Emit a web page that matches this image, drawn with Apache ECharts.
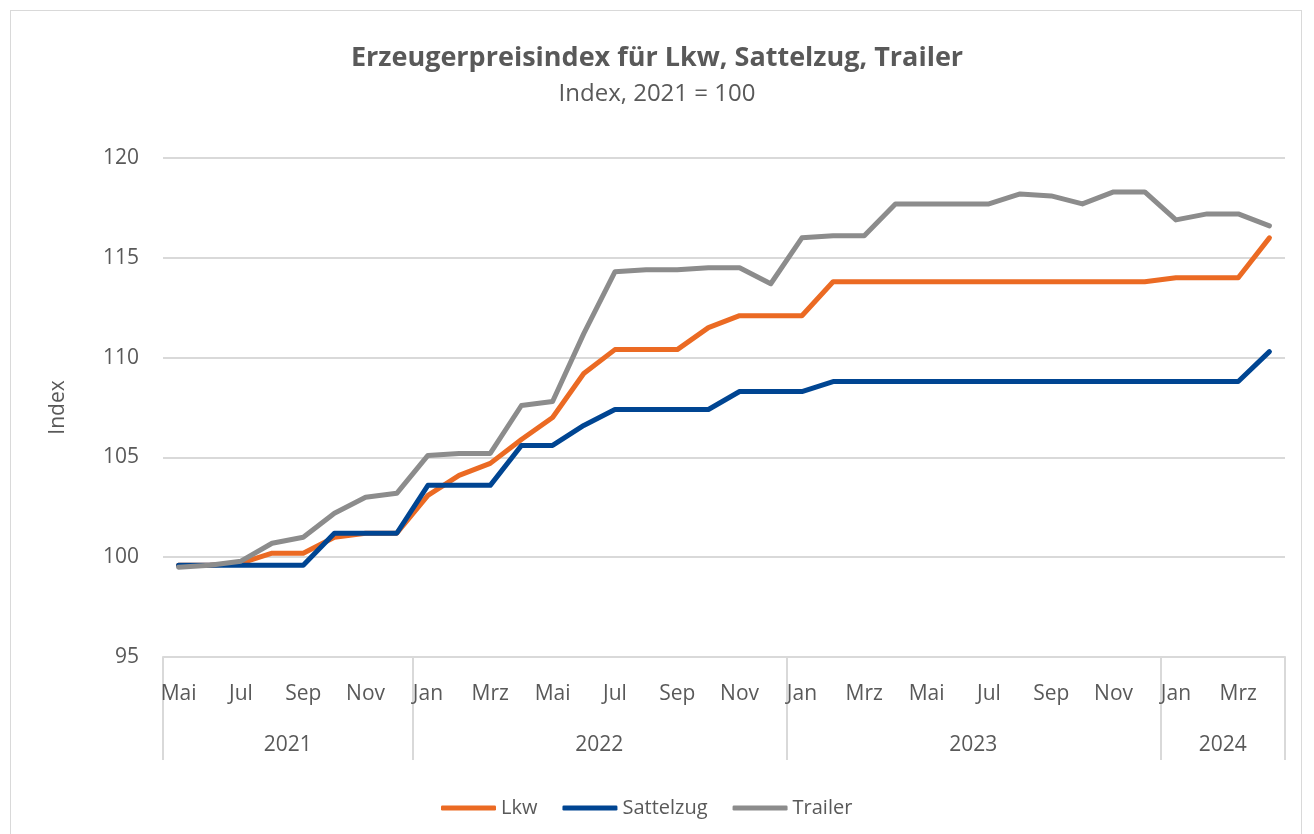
<!DOCTYPE html>
<html>
<head>
<meta charset="utf-8">
<script src="https://cdn.jsdelivr.net/npm/echarts@6/dist/echarts.min.js"></script>
<style>
  html, body { margin: 0; padding: 0; background: #fff; }
  #frame { position: absolute; left: 10px; top: 10px; width: 1292px; height: 840px; border: 1px solid #D9D9D9; box-sizing: border-box; }
  #chart { position: absolute; left: 0; top: 0; width: 1314px; height: 834px; }
</style>
</head>
<body>
<div id="frame"></div>
<div id="chart"></div>
<script>
// ---- data ----
const months = [
  'Mai','Jun','Jul','Aug','Sep','Okt','Nov','Dez',
  'Jan','Feb','Mrz','Apr','Mai','Jun','Jul','Aug','Sep','Okt','Nov','Dez',
  'Jan','Feb','Mrz','Apr','Mai','Jun','Jul','Aug','Sep','Okt','Nov','Dez',
  'Jan','Feb','Mrz','Apr'
];
const years = ['2021', '2022', '2023', '2024'];
const monthsPerYear = [8, 12, 12, 4];

const lkw = [
  99.6, 99.6, 99.7, 100.2, 100.2, 101.0, 101.2, 101.2,
  103.1, 104.1, 104.7, 105.9, 107.0, 109.2, 110.4, 110.4, 110.4, 111.5, 112.1, 112.1,
  112.1, 113.8, 113.8, 113.8, 113.8, 113.8, 113.8, 113.8, 113.8, 113.8, 113.8, 113.8,
  114.0, 114.0, 114.0, 116.0
];
const sattelzug = [
  99.6, 99.6, 99.6, 99.6, 99.6, 101.2, 101.2, 101.2,
  103.6, 103.6, 103.6, 105.6, 105.6, 106.6, 107.4, 107.4, 107.4, 107.4, 108.3, 108.3,
  108.3, 108.8, 108.8, 108.8, 108.8, 108.8, 108.8, 108.8, 108.8, 108.8, 108.8, 108.8,
  108.8, 108.8, 108.8, 110.3
];
const trailer = [
  99.5, 99.6, 99.8, 100.7, 101.0, 102.2, 103.0, 103.2,
  105.1, 105.2, 105.2, 107.6, 107.8, 111.2, 114.3, 114.4, 114.4, 114.5, 114.5, 113.7,
  116.0, 116.1, 116.1, 117.7, 117.7, 117.7, 117.7, 118.2, 118.1, 117.7, 118.3, 118.3,
  116.9, 117.2, 117.2, 116.6
];

// ---- derived year positions on a 0..N scale ----
const boundaries = [0];
monthsPerYear.forEach(n => boundaries.push(boundaries[boundaries.length - 1] + n));
const yearCenters = years.map((y, i) => (boundaries[i] + boundaries[i + 1]) / 2);

const FONT = '"Open Sans", "Noto Sans", sans-serif';
const TXT = '#595959';
const GRID = '#D9D9D9';
const COLORS = { Lkw: '#EB6A23', Sattelzug: '#004592', Trailer: '#8C8C8C' };

const chart = echarts.init(document.getElementById('chart'));
chart.setOption({
  animation: false,
  textStyle: { fontFamily: FONT },
  title: {
    text: 'Erzeugerpreisindex für Lkw, Sattelzug, Trailer',
    subtext: 'Index, 2021 = 100',
    left: 'center',
    top: 36,
    itemGap: 4,
    textStyle: { fontFamily: FONT, fontSize: 27, lineHeight: 34, fontWeight: 'bold', color: TXT },
    subtextStyle: { fontFamily: FONT, fontSize: 24, lineHeight: 30, color: TXT }
  },
  legend: {
    top: 793,
    left: 436,
    icon: 'roundRect',
    itemWidth: 55,
    itemHeight: 5,
    itemGap: 25,
    textStyle: { fontFamily: FONT, fontSize: 20, color: TXT },
    data: ['Lkw', 'Sattelzug', 'Trailer']
  },
  grid: { left: 163, right: 29, top: 158, bottom: 177, containLabel: false },
  xAxis: [
    {
      type: 'category',
      data: months,
      boundaryGap: true,
      axisLine: { show: true, lineStyle: { color: GRID, width: 2 } },
      axisTick: { show: false },
      axisLabel: { interval: 1, margin: 27, fontSize: 21, color: TXT, fontFamily: FONT }
    },
    {
      type: 'value',
      position: 'bottom',
      min: 0,
      max: boundaries[boundaries.length - 1],
      splitLine: { show: false },
      axisLine: { show: false },
      axisTick: { show: true, customValues: boundaries, length: 103, lineStyle: { color: GRID, width: 2 } },
      axisLabel: {
        customValues: yearCenters,
        margin: 78,
        fontSize: 21,
        color: TXT,
        fontFamily: FONT,
        formatter: v => {
          const i = yearCenters.indexOf(v);
          return i >= 0 ? years[i] : '';
        }
      }
    }
  ],
  yAxis: {
    type: 'value',
    min: 95,
    max: 120,
    interval: 5,
    name: 'Index',
    nameLocation: 'middle',
    nameGap: 94,
    nameTextStyle: { fontSize: 21, color: TXT, fontFamily: FONT },
    axisLine: { show: false },
    axisTick: { show: false },
    axisLabel: { fontSize: 21, color: TXT, margin: 24, fontFamily: FONT },
    splitLine: { lineStyle: { color: GRID, width: 2 } }
  },
  series: ['Lkw', 'Sattelzug', 'Trailer'].map((name, k) => ({
    name,
    type: 'line',
    data: [lkw, sattelzug, trailer][k],
    symbol: 'none',
    lineStyle: { width: 5, color: COLORS[name], cap: 'round', join: 'round' },
    itemStyle: { color: COLORS[name] }
  }))
});
</script>
</body>
</html>
